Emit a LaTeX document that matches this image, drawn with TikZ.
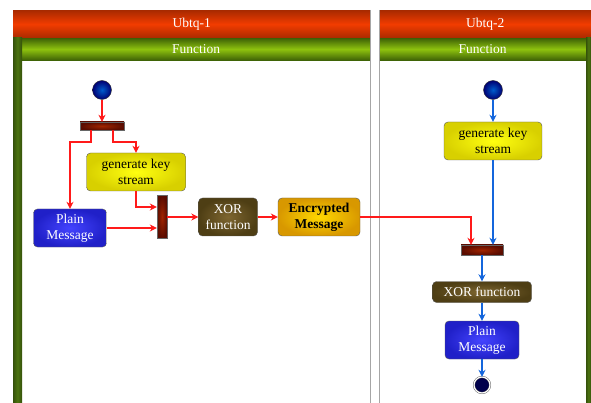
\documentclass[tikz,border=0pt]{standalone}
\usepackage{fontspec}
\setmainfont{Liberation Serif}
\usetikzlibrary{arrows.meta,calc,positioning}
\definecolor{laneorange}{HTML}{F23C00}
\definecolor{laneorangedark}{HTML}{A82A00}
\definecolor{lanegreen}{HTML}{8EC20E}
\definecolor{lanegreendark}{HTML}{3E6206}
\definecolor{sidegreen}{HTML}{4C7410}
\definecolor{flowred}{HTML}{FF1A1A}
\definecolor{flowblue}{HTML}{1466DC}
\definecolor{keyin}{HTML}{FFFF10}
\definecolor{keyout}{HTML}{D8D000}
\definecolor{plainin}{HTML}{4444FF}
\definecolor{plainout}{HTML}{2020C8}
\definecolor{xorin}{HTML}{7E6630}
\definecolor{xorout}{HTML}{4E3E14}
\definecolor{encin}{HTML}{FFD800}
\definecolor{encout}{HTML}{D89800}
\definecolor{barin}{HTML}{A02400}
\definecolor{barout}{HTML}{5A0C00}
\tikzset{
  lanehead/.style={anchor=north west,inner sep=0pt,text=white,font=\fontsize{13.5}{16}\selectfont,
    top color=laneorangedark,bottom color=laneorangedark,middle color=laneorange},
  lanesub/.style={anchor=north west,inner sep=0pt,text=white,font=\fontsize{13.5}{16}\selectfont,
    top color=lanegreendark,bottom color=lanegreendark,middle color=lanegreen},
  action/.style={draw=black!65,rounded corners=4pt,minimum height=38pt,align=center,inner sep=1pt,
    font=\fontsize{13.5}{16}\selectfont},
  keybox/.style={action,inner color=keyin,outer color=keyout},
  plainbox/.style={action,text=white,inner color=plainin,outer color=plainout},
  xorbox/.style={action,text=white,inner color=xorin,outer color=xorout},
  encbox/.style={action,font=\fontsize{13.5}{16}\selectfont\bfseries,inner color=encin,outer color=encout},
  forkbar/.style={draw=black!60,inner sep=0pt,inner color=barin,outer color=barout},
  startdot/.style={circle,draw=black!80,minimum size=19pt,inner sep=0pt,inner color=cyan!45!blue!80!black,outer color=blue!45!black},
  enddot/.style={circle,draw=black!70,double=white,double distance=1.2pt,minimum size=16pt,inner sep=0pt,fill=blue!30!black},
  redflow/.style={draw=flowred,line width=1.6pt,-{Stealth[length=7pt,width=7pt]}},
  blueflow/.style={draw=flowblue,line width=1.6pt,-{Stealth[length=7pt,width=7pt]}}
}

\begin{document}
\begin{tikzpicture}[x=1pt,y=-1pt]
  \useasboundingbox (0,0) rectangle (591,403);

  % swimlanes
  \node[lanehead,minimum width=357pt,minimum height=28pt] (head1) at (13,10) {Ubtq-1};
  \node[lanesub,minimum width=348pt,minimum height=22pt] (sub1) at (22,38) {Function};
  \fill[left color=sidegreen!70!black,right color=sidegreen!70!black,middle color=sidegreen] (13,38) rectangle (22,403);
  \draw[black!35,line width=1pt] (370,10) -- (370,403);
  \node[lanehead,minimum width=212pt,minimum height=28pt] (head2) at (379,10) {Ubtq-2};
  \node[lanesub,minimum width=207pt,minimum height=22pt] (sub2) at (379,38) {Function};
  \fill[left color=sidegreen!70!black,right color=sidegreen!70!black,middle color=sidegreen] (586,38) rectangle (591,403);
  \draw[black!35,line width=1pt] (379,10) -- (379,403);

  % Ubtq-1
  \node[startdot] (start1) at (102,90) {};
  \node[forkbar,minimum width=44pt,minimum height=8pt] (fork1) at (102,126) {};
  \node[keybox,minimum width=99pt] (key1) at (136,172) {generate key\\stream};
  \node[plainbox,minimum width=73pt] (plain1) at (70,228) {Plain\\Message};
  \node[forkbar,minimum width=10pt,minimum height=43pt] (join1) at (162,217) {};
  \node[xorbox,minimum width=59pt] (xor1) at (228,217) {XOR\\function};
  \node[encbox,minimum width=82pt] (enc1) at (319,217) {Encrypted\\Message};

  % Ubtq-2
  \node[startdot] (start2) at (493,90) {};
  \node[keybox,minimum width=98pt] (key2) at (493,141) {generate key\\stream};
  \node[forkbar,minimum width=42pt,minimum height=10pt] (join2) at (482,250) {};
  \node[xorbox,minimum width=99pt,minimum height=21pt] (xor2) at (482,292) {XOR function};
  \node[plainbox,minimum width=74pt] (plain2) at (482,340) {Plain\\Message};
  \node[enddot] (end2) at (482,385) {};

  \draw[redflow] (start1) -- (fork1);
  \draw[redflow] ([xshift=-11pt]fork1.south) -- ++(0,12) -| (plain1.north);
  \draw[redflow] ([xshift=11pt]fork1.south) -- ++(0,12) -| (key1.north);
  \draw[redflow] (key1.south) |- ([yshift=10pt]join1.west);
  \draw[redflow] (plain1.east) -- (plain1.east -| join1.west);
  \draw[redflow] (join1.east) -- (xor1.west);
  \draw[redflow] (xor1.east) -- (enc1.west);
  \draw[redflow] (enc1.east) -| ([xshift=-11pt]join2.north);

  \draw[blueflow] (start2) -- (key2);
  \draw[blueflow] (key2.south) -- (key2.south |- join2.north);
  \draw[blueflow] (join2) -- (xor2);
  \draw[blueflow] (xor2) -- (plain2);
  \draw[blueflow] (plain2) -- (end2);
\end{tikzpicture}
\end{document}
